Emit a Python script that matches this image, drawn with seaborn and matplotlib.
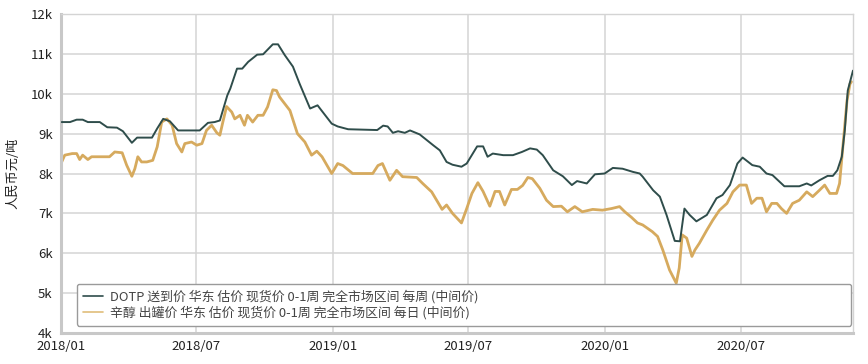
import pandas as pd
import matplotlib.pyplot as plt
import matplotlib.dates as mdates
import seaborn as sns
from matplotlib.ticker import FuncFormatter

# DOTP delivered price, East China, weekly (yuan/ton)
dotp_dates = [
    "2018-01-02", "2018-01-13", "2018-01-22", "2018-01-30", "2018-02-06", "2018-02-22",
    "2018-03-04", "2018-03-17", "2018-03-25", "2018-04-06", "2018-04-13", "2018-05-03",
    "2018-05-10", "2018-05-18", "2018-05-27", "2018-06-07", "2018-07-06", "2018-07-17",
    "2018-07-26", "2018-08-02", "2018-08-12", "2018-08-16", "2018-08-25", "2018-09-01",
    "2018-09-09", "2018-09-21", "2018-09-29", "2018-10-12", "2018-10-19", "2018-10-28",
    "2018-11-08", "2018-11-17", "2018-12-01", "2018-12-11", "2018-12-18", "2018-12-30",
    "2019-01-07", "2019-01-21", "2019-03-01", "2019-03-09", "2019-03-15", "2019-03-22",
    "2019-03-29", "2019-04-07", "2019-04-14", "2019-04-27", "2019-05-15", "2019-05-24",
    "2019-06-02", "2019-06-10", "2019-06-22", "2019-06-29", "2019-07-13", "2019-07-21",
    "2019-07-27", "2019-08-03", "2019-08-17", "2019-08-30", "2019-09-11", "2019-09-22",
    "2019-10-01", "2019-10-09", "2019-10-23", "2019-11-05", "2019-11-17", "2019-11-24",
    "2019-12-07", "2019-12-18", "2019-12-31", "2020-01-11", "2020-01-24", "2020-02-07",
    "2020-02-16", "2020-02-20", "2020-03-05", "2020-03-14", "2020-03-23", "2020-04-03",
    "2020-04-10", "2020-04-16", "2020-04-23", "2020-05-02", "2020-05-16", "2020-05-29",
    "2020-06-06", "2020-06-16", "2020-06-26", "2020-07-03", "2020-07-16", "2020-07-26",
    "2020-08-04", "2020-08-12", "2020-08-28", "2020-09-17", "2020-09-27", "2020-10-03",
    "2020-10-14", "2020-10-25", "2020-11-01", "2020-11-07", "2020-11-13", "2020-11-17",
    "2020-11-21", "2020-11-28",
]
dotp_values = [
    9290, 9290, 9350, 9350, 9290, 9290, 9160, 9150, 9060, 8770, 8900, 8900,
    9130, 9370, 9310, 9080, 9080, 9270, 9290, 9330, 9960, 10130, 10630, 10630,
    10800, 10980, 10990, 11240, 11240, 10970, 10680, 10250, 9630, 9710, 9540, 9250,
    9180, 9110, 9090, 9200, 9180, 9020, 9060, 9020, 9080, 8980, 8710, 8580,
    8290, 8220, 8170, 8250, 8680, 8680, 8420, 8500, 8460, 8460, 8540, 8630,
    8600, 8460, 8080, 7930, 7710, 7810, 7750, 7980, 8000, 8140, 8120, 8040,
    8000, 7920, 7580, 7420, 6960, 6310, 6300, 7120, 6960, 6800, 6960, 7380,
    7460, 7710, 8250, 8400, 8210, 8170, 8000, 7960, 7680, 7680, 7750, 7700,
    7830, 7940, 7940, 8080, 8420, 9080, 10080, 10580,
]

# octanol ex-tank price, East China, daily (yuan/ton)
octanol_dates = [
    "2018-01-01", "2018-01-06", "2018-01-16", "2018-01-22", "2018-01-26", "2018-01-30",
    "2018-02-06", "2018-02-11", "2018-03-07", "2018-03-14", "2018-03-24", "2018-03-30",
    "2018-04-06", "2018-04-10", "2018-04-14", "2018-04-19", "2018-04-26", "2018-05-04",
    "2018-05-10", "2018-05-16", "2018-05-23", "2018-05-30", "2018-06-05", "2018-06-12",
    "2018-06-16", "2018-06-25", "2018-07-02", "2018-07-09", "2018-07-15", "2018-07-22",
    "2018-07-29", "2018-08-02", "2018-08-06", "2018-08-11", "2018-08-18", "2018-08-22",
    "2018-08-29", "2018-09-04", "2018-09-08", "2018-09-15", "2018-09-22", "2018-09-29",
    "2018-10-05", "2018-10-12", "2018-10-17", "2018-10-21", "2018-11-04", "2018-11-14",
    "2018-11-24", "2018-12-03", "2018-12-10", "2018-12-17", "2018-12-30", "2019-01-07",
    "2019-01-14", "2019-01-27", "2019-02-23", "2019-03-02", "2019-03-08", "2019-03-18",
    "2019-03-27", "2019-04-04", "2019-04-23", "2019-05-01", "2019-05-13", "2019-05-27",
    "2019-06-02", "2019-06-10", "2019-06-22", "2019-06-29", "2019-07-06", "2019-07-14",
    "2019-07-21", "2019-07-30", "2019-08-06", "2019-08-12", "2019-08-19", "2019-08-28",
    "2019-09-05", "2019-09-12", "2019-09-19", "2019-09-25", "2019-10-05", "2019-10-14",
    "2019-10-23", "2019-11-03", "2019-11-11", "2019-11-21", "2019-12-01", "2019-12-15",
    "2019-12-28", "2020-01-09", "2020-01-20", "2020-01-27", "2020-02-05", "2020-02-13",
    "2020-02-20", "2020-03-04", "2020-03-11", "2020-03-18", "2020-03-27", "2020-04-05",
    "2020-04-09", "2020-04-13", "2020-04-19", "2020-04-26", "2020-04-30", "2020-05-06",
    "2020-05-16", "2020-05-24", "2020-06-02", "2020-06-12", "2020-06-20", "2020-06-29",
    "2020-07-08", "2020-07-15", "2020-07-22", "2020-07-29", "2020-08-04", "2020-08-11",
    "2020-08-18", "2020-08-24", "2020-08-31", "2020-09-08", "2020-09-17", "2020-09-27",
    "2020-10-05", "2020-10-14", "2020-10-21", "2020-10-28", "2020-11-06", "2020-11-10",
    "2020-11-14", "2020-11-20", "2020-11-24", "2020-11-26",
]
octanol_values = [
    8250, 8460, 8500, 8500, 8350, 8460, 8350, 8420, 8420, 8540, 8520, 8210,
    7930, 8120, 8420, 8290, 8290, 8330, 8670, 9290, 9370, 9210, 8750, 8540,
    8750, 8790, 8710, 8750, 9080, 9210, 9020, 8960, 9290, 9680, 9540, 9370,
    9460, 9210, 9460, 9290, 9460, 9460, 9670, 10100, 10080, 9920, 9580, 9000,
    8790, 8460, 8560, 8420, 8000, 8250, 8200, 8000, 8000, 8200, 8250, 7830,
    8080, 7920, 7900, 7750, 7540, 7100, 7210, 7000, 6760, 7120, 7500, 7770,
    7550, 7180, 7550, 7550, 7210, 7600, 7600, 7700, 7900, 7870, 7630, 7330,
    7170, 7180, 7040, 7170, 7040, 7100, 7080, 7120, 7170, 7040, 6900, 6760,
    6710, 6540, 6420, 6080, 5580, 5250, 5630, 6460, 6380, 5920, 6080, 6250,
    6580, 6830, 7080, 7250, 7540, 7710, 7710, 7250, 7380, 7380, 7040, 7250,
    7250, 7120, 7000, 7250, 7330, 7540, 7420, 7580, 7710, 7500, 7500, 7750,
    8580, 9830, 10250, 10300,
]

dotp_label = "DOTP 送到价 华东 估价 现货价 0-1周 完全市场区间 每周 (中间价)"
octanol_label = "辛醇 出罐价 华东 估价 现货价 0-1周 完全市场区间 每日 (中间价)"

df = pd.concat([
    pd.DataFrame({"date": pd.to_datetime(dotp_dates), "price": dotp_values, "series": dotp_label}),
    pd.DataFrame({"date": pd.to_datetime(octanol_dates), "price": octanol_values, "series": octanol_label}),
])

sns.set_style("white")
plt.rcParams["font.family"] = ["Noto Sans CJK SC", "DejaVu Sans"]

fig = plt.figure(figsize=(8.68, 3.64), dpi=100)
ax = fig.add_axes([0.0703, 0.0852, 0.9124, 0.8763])

sns.lineplot(data=df, x="date", y="price", hue="series",
             palette={dotp_label: "#2f4d4b", octanol_label: "#d6aa5e"},
             ax=ax, legend=False, estimator=None, sort=False)
lines = ax.get_lines()
lines[0].set_linewidth(1.4)
lines[1].set_linewidth(2.0)
lines[1].set_zorder(2)
lines[0].set_zorder(3)

ax.set_xlim(pd.Timestamp("2018-01-01"), pd.Timestamp("2020-11-28"))
ax.set_ylim(4000, 12000)
ax.set_yticks(range(4000, 12001, 1000))
ax.yaxis.set_major_formatter(FuncFormatter(lambda v, p: f"{int(v/1000)}k"))
ax.xaxis.set_major_locator(mdates.MonthLocator(bymonth=[1, 7]))
ax.xaxis.set_major_formatter(mdates.DateFormatter("%Y/%m"))

ax.grid(True, color="#d4d4d4", linewidth=1.1)
ax.set_axisbelow(True)
for side in ["left", "bottom"]:
    ax.spines[side].set_color("#c8c8c8")
    ax.spines[side].set_linewidth(2.2)
ax.spines["right"].set_color("#d4d4d4")
ax.spines["right"].set_linewidth(1.0)
ax.spines["top"].set_color("#d4d4d4")
ax.spines["top"].set_linewidth(1.0)

ax.tick_params(axis="both", labelsize=9.5, colors="#222222", length=0)
ax.tick_params(axis="x", pad=5)
ax.tick_params(axis="y", pad=6)
ax.set_xlabel("")
ax.set_ylabel("人民币元/吨", fontsize=9.5, color="#222222", labelpad=8)

handles = [plt.Line2D([], [], color="#2f4d4b", lw=1.2),
           plt.Line2D([], [], color="#e0bd7a", lw=1.2)]
leg = ax.legend(handles, [dotp_label, octanol_label], loc="lower left",
                bbox_to_anchor=(0.02, 0.022, 0.978, 0.135), mode="expand",
                borderaxespad=0,
                fontsize=9.3, frameon=True, fancybox=True, handlelength=1.5,
                handletextpad=0.55, labelspacing=0.15, borderpad=0.5,
                labelcolor="#444444")
leg.get_frame().set_edgecolor("#9a9a9a")
leg.get_frame().set_linewidth(1.0)
leg.get_frame().set_alpha(1.0)

fig.savefig("out.png", dpi=100)
